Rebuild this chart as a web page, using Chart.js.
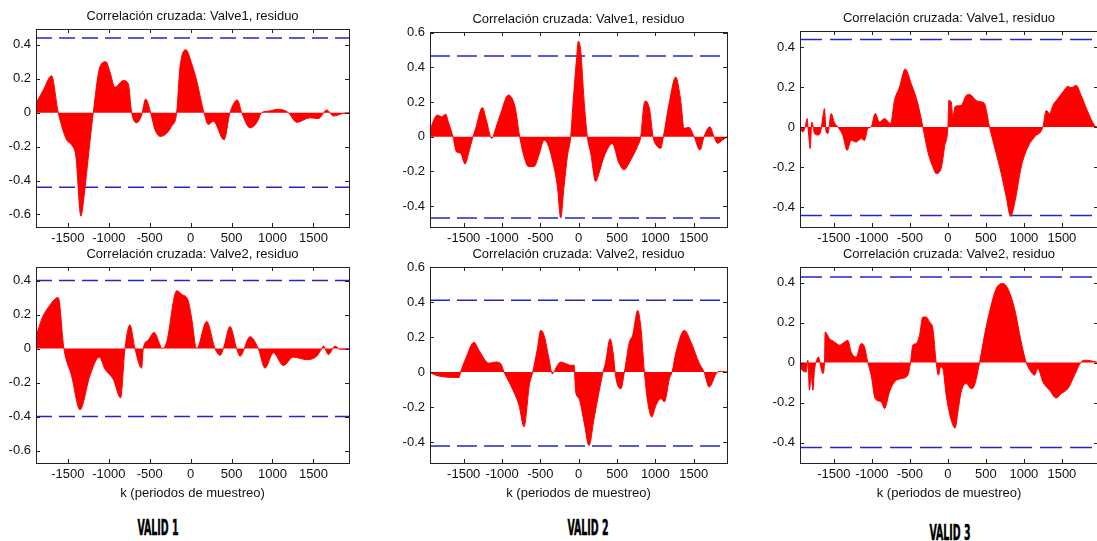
<!DOCTYPE html>
<html>
<head>
<meta charset="utf-8">
<script src="https://cdn.jsdelivr.net/npm/chart.js@4.4.1/dist/chart.umd.min.js"></script>
<style>
  html, body { margin: 0; padding: 0; background: #fff; width: 1097px; height: 541px; overflow: hidden; }
  canvas.panel { position: absolute; }
  .tag {
    position: absolute; width: 120px; text-align: center;
    font-family: "Liberation Sans Narrow", "DejaVu Sans Condensed", "Liberation Sans", sans-serif;
    font-weight: bold; font-size: 21px; line-height: 21px; color: #000;
    -webkit-text-stroke: 0.5px #000; transform: scaleX(0.5); transform-origin: 50% 50%;
  }
</style>
</head>
<body>
<script>
// ---- Cross-correlation data: lag k (sampling periods) and correlation value ----

// VALID 1, Valve1 vs residual
const lags1 = [-1890,-1800,-1700,-1618,-1516,-1455,-1402,-1341,-1304,-1264,-1190,-1109,-1035,-986,-925,-823,-762,-721,-660,-599,-550,-489,-436,-375,-314,-232,-171,-130,-57,12,73,163,216,277,408,481,571,624,726,807,868,960,1072,1194,1296,1459,1561,1663,1745,1867,1935];
const corr1 = [0.055,0.134,0.217,0,-0.16,-0.19,-0.26,-0.61,-0.5,-0.32,0,0.27,0.30,0.24,0.15,0.19,0.17,0,-0.06,-0.015,0.08,0,-0.10,-0.14,-0.13,-0.08,0,0.27,0.37,0.29,0.19,0,-0.07,-0.05,-0.16,0,0.075,0,-0.09,-0.06,0,0.01,0.02,0,-0.057,-0.03,-0.035,0.016,-0.02,-0.004,0];

// VALID 1, Valve2 vs residual
const lags4 = [-1890,-1818,-1736,-1618,-1549,-1455,-1353,-1231,-1117,-1048,-946,-856,-803,-742,-681,-599,-579,-518,-448,-342,-293,-171,-110,-29,12,73,196,298,359,400,481,562,603,726,827,909,1011,1133,1255,1418,1540,1602,1622,1683,1765,1826,1935];
const corr4 = [0.07,0.176,0.245,0.30,0,-0.16,-0.36,-0.16,-0.05,-0.12,-0.18,-0.29,0,0.14,0,-0.115,0,0.05,0.095,0,0.04,0.34,0.32,0.28,0.18,0,0.16,0,-0.04,0,0.13,0,-0.045,0.07,0,-0.115,-0.025,-0.10,-0.05,-0.065,-0.045,0,0.015,-0.035,0.015,-0.004,-0.002];

// VALID 2, Valve1 vs residual
const lags2 = [-1940,-1910,-1844,-1788,-1736,-1701,-1640,-1596,-1540,-1483,-1431,-1379,-1344,-1257,-1205,-1135,-1083,-1018,-918,-831,-770,-713,-657,-583,-518,-452,-409,-344,-278,-235,-191,-148,-104,-74,-30,-4,26,70,113,157,222,265,331,439,526,592,679,766,809,853,874,927,970,1027,1070,1105,1179,1266,1331,1375,1440,1505,1583,1636,1710,1766,1810,1875,1935];
const corr2 = [0.03,0.075,0.125,0.115,0.13,0.086,0,-0.086,-0.096,-0.157,-0.086,0,0.048,0.168,0.096,-0.01,0.048,0.134,0.24,0.172,0,-0.115,-0.172,-0.172,-0.105,-0.02,-0.038,-0.134,-0.287,-0.468,-0.287,-0.115,0,0.19,0.44,0.55,0.497,0.21,0,-0.096,-0.258,-0.21,-0.115,-0.04,-0.153,-0.19,-0.134,-0.057,0,0.19,0.205,0.153,0,-0.057,-0.067,0,0.19,0.344,0.21,0.048,0.054,0,-0.077,0,0.057,0,-0.038,-0.02,0];

// VALID 2, Valve2 vs residual
const lags5 = [-1940,-1910,-1736,-1562,-1540,-1475,-1366,-1301,-1170,-1083,-1018,-974,-866,-779,-713,-644,-600,-539,-496,-452,-387,-344,-278,-235,-170,-104,-61,-39,4,70,135,200,265,318,352,409,448,487,552,596,661,704,770,813,857,900,953,1009,1074,1118,1184,1218,1270,1379,1466,1575,1636,1701,1810,1853,1935];
const corr5 = [0,-0.01,-0.029,-0.032,0,0.076,0.17,0.124,0.05,0.057,0.048,0,-0.095,-0.19,-0.314,-0.076,0,0.133,0.238,0.21,0.076,-0.01,0.038,0.057,0.048,0.038,0.04,-0.114,-0.152,-0.286,-0.42,-0.267,-0.114,0,0.057,0.19,0.114,-0.038,-0.095,0,0.17,0.21,0.352,0.248,0,-0.17,-0.257,-0.19,-0.152,-0.171,-0.038,0,0.114,0.238,0.17,0.048,0,-0.086,0,0.004,0];

// VALID 3, Valve1 vs residual
const lags3 = [-1945,-1908,-1877,-1851,-1833,-1811,-1789,-1754,-1711,-1675,-1645,-1623,-1601,-1579,-1535,-1491,-1447,-1382,-1325,-1272,-1206,-1140,-1096,-1053,-1009,-956,-899,-833,-754,-702,-636,-561,-482,-395,-329,-263,-197,-154,-88,-44,0,13,44,66,96,175,241,285,373,447,482,548,614,702,768,825,886,965,1053,1140,1250,1294,1338,1382,1447,1513,1579,1623,1689,1754,1842,1930,1975];
const corr3 = [-0.008,-0.025,0,0.042,-0.03,-0.108,0.025,-0.033,-0.04,-0.025,0.05,0.092,-0.025,-0.033,0.067,0.02,0,-0.042,-0.117,-0.067,-0.075,-0.058,-0.067,-0.008,0,0.067,0.025,0.042,0.017,0.133,0.2,0.29,0.217,0.117,0,-0.125,-0.2,-0.233,-0.208,-0.1,0,0.133,0.125,0.05,0.103,0.108,0.158,0.163,0.133,0.125,0.117,0,-0.1,-0.233,-0.35,-0.447,-0.367,-0.2,-0.1,-0.05,0,0.083,0.067,0.108,0.142,0.175,0.203,0.197,0.208,0.158,0.075,0.008,0];

// VALID 3, Valve2 vs residual
const lags6 = [-1945,-1930,-1864,-1842,-1820,-1798,-1776,-1754,-1719,-1702,-1667,-1645,-1623,-1614,-1557,-1491,-1425,-1360,-1316,-1272,-1206,-1140,-1096,-1053,-1009,-956,-877,-833,-768,-702,-614,-526,-491,-461,-417,-373,-329,-285,-241,-197,-154,-123,-96,-66,-22,44,96,132,175,241,307,351,417,482,548,636,724,789,877,965,1031,1096,1140,1184,1250,1338,1425,1491,1579,1667,1746,1798,1952,1975];
const corr6 = [0.017,-0.03,-0.047,0.012,-0.138,-0.06,-0.138,-0.038,0.02,0.028,-0.03,-0.055,0,0.153,0.12,0.103,0.087,0.103,0.112,0.053,0.028,0.095,0.078,0,-0.063,-0.18,-0.197,-0.23,-0.147,-0.097,-0.08,-0.063,0,0.087,0.095,0.137,0.228,0.228,0.203,0.17,0,-0.063,-0.022,-0.03,-0.163,-0.288,-0.327,-0.247,-0.147,-0.105,-0.13,-0.113,0,0.137,0.253,0.37,0.395,0.37,0.27,0.103,0,-0.047,-0.063,-0.03,-0.097,-0.138,-0.177,-0.155,-0.13,-0.063,0,0.012,0.003,0];

// Confidence bounds (upper, lower) for each plot
const bounds1 = [0.44, -0.44];
const bounds2 = [0.465, -0.468];
const bounds3 = [0.437, -0.442];
const bounds4 = [0.40, -0.40];
const bounds5 = [0.41, -0.423];
const bounds6 = [0.428, -0.425];

// Axis limits and ticks
const xLim1 = [-1890, 1935];
const xLim2 = [-1940, 1935];
const xLim3 = [-1945, 1975];
const xTicks = [-1500, -1000, -500, 0, 500, 1000, 1500];
const yLim1 = [-0.674, 0.493];
const yLim4 = [-0.673, 0.48];
const yLim2 = [-0.52, 0.603];
const yLim5 = [-0.52, 0.6];
const yLim3 = [-0.5, 0.48];
const yLim6 = [-0.502, 0.478];
const yTicksA = [-0.6, -0.4, -0.2, 0, 0.2, 0.4];
const yTicksB = [-0.4, -0.2, 0, 0.2, 0.4, 0.6];
const yTicksC = [-0.4, -0.2, 0, 0.2, 0.4];

const title1 = 'Correlación cruzada: Valve1, residuo';
const title2 = 'Correlación cruzada: Valve2, residuo';
const xTitle = 'k (periodos de muestreo)';
const groupNames = ['VALID 1', 'VALID 2', 'VALID 3'];

// ---- Layout of the six axes boxes (pixels) ----
const FONT = '"Liberation Sans", Arial, Helvetica, sans-serif';
const panels = [
  { box: [36, 29, 349, 227],  lags: lags1, corr: corr1, bounds: bounds1, xLim: xLim1, yLim: yLim1, yTicks: yTicksA, title: title1, bottom: false, dash: [16, 7] },
  { box: [430, 32, 727, 227], lags: lags2, corr: corr2, bounds: bounds2, xLim: xLim2, yLim: yLim2, yTicks: yTicksB, title: title1, bottom: false, dash: [20, 7] },
  { box: [800, 31, 1098, 227], lags: lags3, corr: corr3, bounds: bounds3, xLim: xLim3, yLim: yLim3, yTicks: yTicksC, title: title1, bottom: false, dash: [22, 8] },
  { box: [36, 267, 349, 463], lags: lags4, corr: corr4, bounds: bounds4, xLim: xLim1, yLim: yLim4, yTicks: yTicksA, title: title2, bottom: true, dash: [16, 7] },
  { box: [430, 267, 727, 463], lags: lags5, corr: corr5, bounds: bounds5, xLim: xLim2, yLim: yLim5, yTicks: yTicksB, title: title2, bottom: true, dash: [20, 7] },
  { box: [800, 267, 1098, 463], lags: lags6, corr: corr6, bounds: bounds6, xLim: xLim3, yLim: yLim6, yTicks: yTicksC, title: title2, bottom: true, dash: [22, 8] }
];
const tagPos = [[158, 518], [588, 518], [950, 523]];

const AXIS_W = 40, TITLE_H = 30, PAD_R = 8;

// Box outline with inward tick marks on all four sides
const boxPlugin = {
  id: 'boxTicks',
  afterDraw(chart) {
    const { ctx, chartArea: a, scales: { x, y } } = chart;
    const len = 4;
    ctx.save();
    ctx.strokeStyle = '#222';
    ctx.lineWidth = 1;
    ctx.beginPath();
    x.ticks.forEach(t => {
      const px = Math.round(x.getPixelForValue(t.value)) + 0.5;
      ctx.moveTo(px, a.top); ctx.lineTo(px, a.top + len);
      ctx.moveTo(px, a.bottom); ctx.lineTo(px, a.bottom - len);
    });
    y.ticks.forEach(t => {
      const py = Math.round(y.getPixelForValue(t.value)) + 0.5;
      ctx.moveTo(a.left, py); ctx.lineTo(a.left + len, py);
      ctx.moveTo(a.right, py); ctx.lineTo(a.right - len, py);
    });
    ctx.stroke();
    ctx.strokeRect(Math.round(a.left) + 0.5, Math.round(a.top) + 0.5,
                   Math.round(a.right - a.left), Math.round(a.bottom - a.top));
    ctx.restore();
  }
};

panels.forEach(p => {
  const [L, T, R, B] = p.box;
  const H = p.bottom ? 38 : 22;
  const cv = document.createElement('canvas');
  cv.className = 'panel';
  const w = R - L + AXIS_W + PAD_R, h = B - T + TITLE_H + H;
  cv.width = w; cv.height = h;
  cv.style.left = (L - AXIS_W) + 'px';
  cv.style.top = (T - TITLE_H) + 'px';
  cv.style.width = w + 'px'; cv.style.height = h + 'px';
  document.body.appendChild(cv);

  const series = p.lags.map((k, i) => ({ x: k, y: p.corr[i] }));
  const bound = v => [{ x: p.xLim[0], y: v }, { x: p.xLim[1], y: v }];

  new Chart(cv, {
    type: 'line',
    data: {
      datasets: [
        { data: series, borderColor: '#ff0000', backgroundColor: '#ff0000', borderWidth: 1,
          fill: 'origin', pointRadius: 0, cubicInterpolationMode: 'monotone' },
        { data: bound(p.bounds[0]), borderColor: '#2424c8', borderWidth: 1.5, borderDash: p.dash, pointRadius: 0, fill: false },
        { data: bound(p.bounds[1]), borderColor: '#2424c8', borderWidth: 1.5, borderDash: p.dash, pointRadius: 0, fill: false }
      ]
    },
    options: {
      responsive: false, animation: false, devicePixelRatio: 1,
      layout: { padding: { left: 0, top: 0, right: PAD_R, bottom: 0 } },
      plugins: {
        legend: { display: false }, tooltip: { enabled: false },
        title: { display: true, text: p.title, fullSize: false, color: '#111',
                 font: { family: FONT, size: 13, weight: 'normal', lineHeight: '16px' },
                 padding: { top: 9, bottom: 5 } }
      },
      scales: {
        x: {
          type: 'linear', min: p.xLim[0], max: p.xLim[1],
          grid: { display: false, drawTicks: false }, border: { display: false },
          afterBuildTicks: s => { s.ticks = xTicks.map(v => ({ value: v })); },
          afterFit: s => { s.height = H; },
          ticks: { padding: 4, color: '#111', font: { family: FONT, size: 13 }, maxRotation: 0,
                   autoSkip: false, callback: v => String(v) },
          title: { display: p.bottom, text: xTitle, color: '#111', padding: { top: 0, bottom: 0 },
                   font: { family: FONT, size: 13, lineHeight: '16px' } }
        },
        y: {
          type: 'linear', min: p.yLim[0], max: p.yLim[1],
          grid: { display: false, drawTicks: false }, border: { display: false },
          afterBuildTicks: s => { s.ticks = p.yTicks.map(v => ({ value: v })); },
          afterFit: s => { s.width = AXIS_W; },
          ticks: { padding: 5, color: '#111', font: { family: FONT, size: 13 }, autoSkip: false,
                   callback: v => String(v) }
        }
      }
    },
    plugins: [boxPlugin]
  });
});

groupNames.forEach((name, i) => {
  const d = document.createElement('div');
  d.className = 'tag';
  d.textContent = name;
  d.style.left = (tagPos[i][0] - 60) + 'px';
  d.style.top = tagPos[i][1] + 'px';
  document.body.appendChild(d);
});
</script>
</body>
</html>
